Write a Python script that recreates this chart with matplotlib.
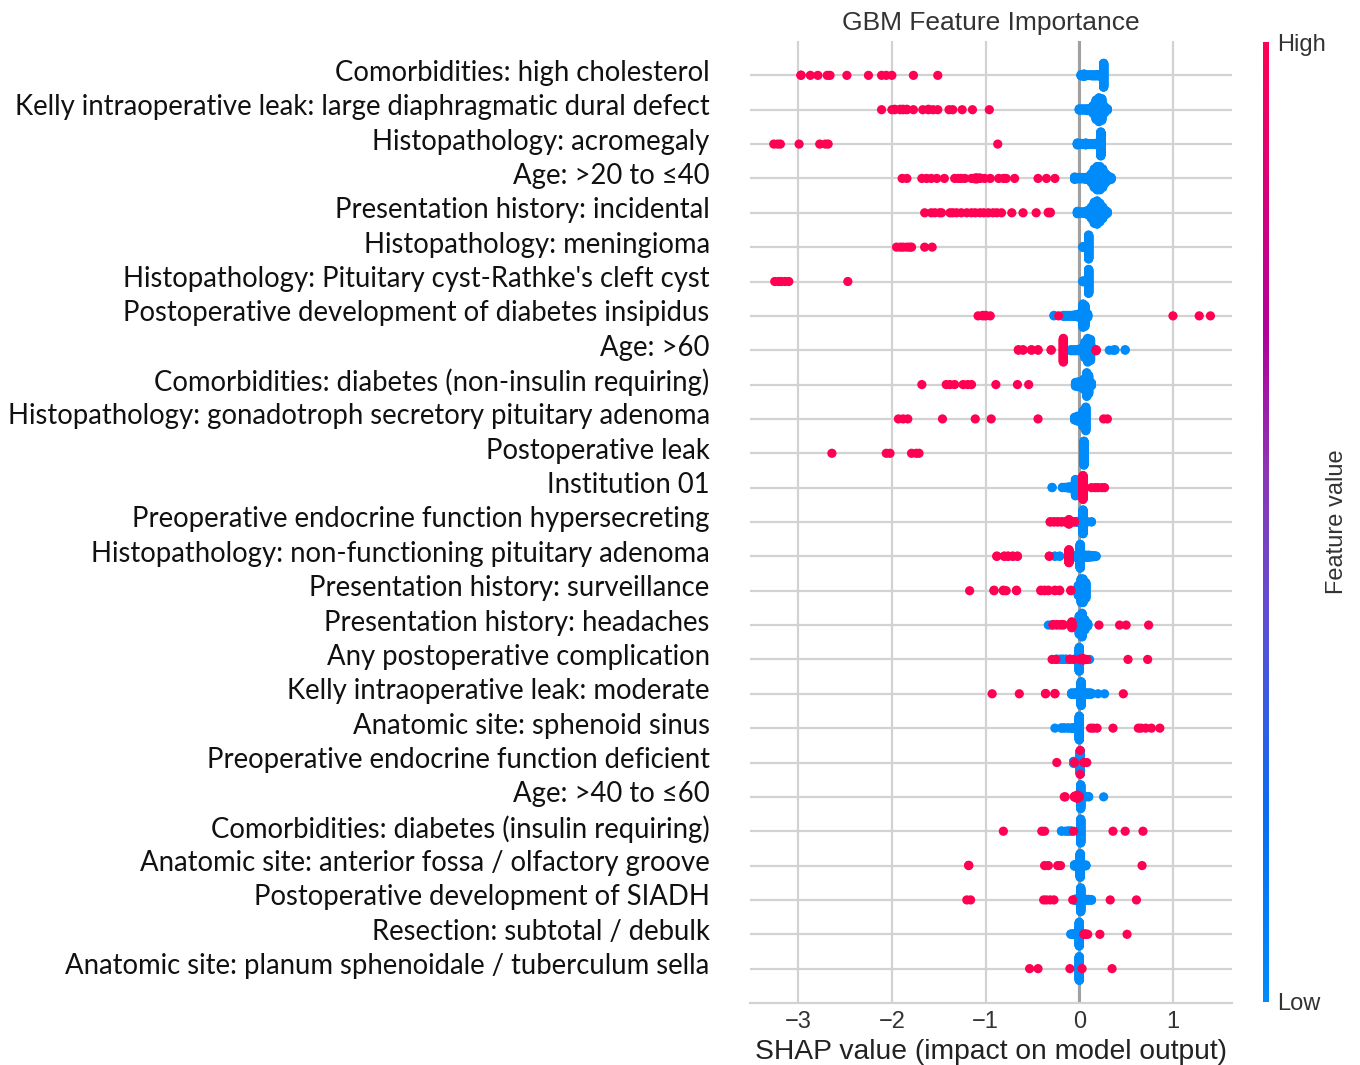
import numpy as np
import matplotlib
matplotlib.use('Agg')
from matplotlib import pyplot as plt
from matplotlib.colors import LinearSegmentedColormap
from matplotlib.cm import ScalarMappable
from matplotlib.transforms import ScaledTranslation


# features, top to bottom
FEATURES = [
    'Comorbidities: high cholesterol',
    'Kelly intraoperative leak: large diaphragmatic dural defect',
    'Histopathology: acromegaly',
    'Age: >20 to \u226440',
    'Presentation history: incidental',
    'Histopathology: meningioma',
    "Histopathology: Pituitary cyst-Rathke's cleft cyst",
    'Postoperative development of diabetes insipidus',
    'Age: >60',
    'Comorbidities: diabetes (non-insulin requiring)',
    'Histopathology: gonadotroph secretory pituitary adenoma',
    'Postoperative leak',
    'Institution 01',
    'Preoperative endocrine function hypersecreting',
    'Histopathology: non-functioning pituitary adenoma',
    'Presentation history: surveillance',
    'Presentation history: headaches',
    'Any postoperative complication',
    'Kelly intraoperative leak: moderate',
    'Anatomic site: sphenoid sinus',
    'Preoperative endocrine function deficient',
    'Age: >40 to \u226460',
    'Comorbidities: diabetes (insulin requiring)',
    'Anatomic site: anterior fossa / olfactory groove',
    'Postoperative development of SIADH',
    'Resection: subtotal / debulk',
    'Anatomic site: planum sphenoidale / tuberculum sella',
]

# SHAP values of the high feature value group (red) and their counts
HIGH_VALS = [
    [-2.97, -2.87, -2.79, -2.69, -2.66, -2.48, -2.25, -2.11, -2.06, -2.00, -1.77, -1.51],
    [-2.11, -2.00, -1.97, -1.91, -1.88, -1.84, -1.77, -1.67, -1.61, -1.56, -1.51, -1.39, -1.35, -1.25, -1.14, -0.96],
    [-3.26, -3.22, -3.19, -2.99, -2.77, -2.71, -2.68, -0.87],
    [-1.89, -1.84, -1.68, -1.63, -1.58, -1.52, -1.44, -1.33, -1.29, -1.26, -1.22, -1.15, -1.11, -1.09,
     -1.06, -1.01, -0.95, -0.86, -0.81, -0.78, -0.69, -0.44, -0.35, -0.26],
    [-1.65, -1.58, -1.54, -1.49, -1.47, -1.38, -1.35, -1.31, -1.26, -1.20, -1.15, -1.11, -1.06, -1.02,
     -0.97, -0.92, -0.88, -0.83, -0.72, -0.60, -0.46, -0.33, -0.31],
    [-1.95, -1.91, -1.88, -1.84, -1.81, -1.79, -1.65, -1.57],
    [-3.25, -3.21, -3.18, -3.14, -3.10, -2.47],
    [-1.08, -1.03, -1.00, -0.95, -0.22, 1.00, 1.28, 1.40],
    [-0.65, -0.60, -0.51, -0.44, -0.30, -0.17, 0.18],
    [-1.68, -1.42, -1.38, -1.33, -1.24, -1.19, -1.15, -0.89, -0.66, -0.54],
    [-1.93, -1.88, -1.83, -1.46, -1.11, -0.94, -0.44, 0.26, 0.30],
    [-2.64, -2.06, -2.02, -1.79, -1.74, -1.71],
    [0.04, 0.13, 0.17, 0.20, 0.24, 0.27],
    [-0.31, -0.27, -0.23, -0.19, -0.15, -0.11, -0.08, -0.05],
    [-0.88, -0.80, -0.76, -0.71, -0.66, -0.32, -0.11],
    [-1.17, -0.91, -0.81, -0.78, -0.67, -0.41, -0.37, -0.33, -0.26, -0.21, -0.09],
    [-0.28, -0.24, -0.20, -0.17, -0.08, 0.21, 0.43, 0.50, 0.74],
    [-0.29, -0.25, -0.10, -0.06, 0.01, 0.04, 0.08, 0.52, 0.73],
    [-0.93, -0.64, -0.36, -0.26, 0.47],
    [0.12, 0.15, 0.19, 0.36, 0.63, 0.66, 0.71, 0.77, 0.86],
    [-0.24, -0.05, 0.01, 0.05, 0.08],
    [-0.16, -0.15, -0.05, -0.02, 0.00],
    [-0.81, -0.40, -0.37, -0.06, 0.36, 0.49, 0.68],
    [-1.18, -0.37, -0.33, -0.23, -0.20, 0.67],
    [-1.20, -1.16, -0.38, -0.35, -0.31, -0.27, -0.07, 0.33, 0.61],
    [0.05, 0.07, 0.09, 0.22, 0.51],
    [-0.53, -0.44, -0.10, 0.03, 0.35],
]
HIGH_CNTS = [
    [2, 1, 1, 1, 1, 1, 1, 1, 1, 1, 1, 1],
    [1, 1, 2, 2, 2, 2, 1, 1, 2, 1, 1, 1, 1, 1, 1, 1],
    [1, 1, 1, 1, 1, 1, 1, 1],
    [1, 1, 1, 1, 1, 1, 1, 1, 1, 1, 1, 1, 3, 3, 2, 1, 1, 1, 1, 1, 1, 1, 1, 1],
    [1, 1, 1, 1, 1, 1, 1, 1, 1, 1, 1, 1, 1, 1, 1, 1, 1, 1, 1, 1, 1, 2, 2],
    [1, 1, 1, 1, 1, 1, 1, 1],
    [1, 1, 1, 1, 1, 1],
    [1, 2, 2, 1, 1, 1, 1, 1],
    [2, 2, 2, 2, 2, 45, 3],
    [1, 1, 1, 1, 1, 1, 1, 1, 1, 1],
    [1, 1, 1, 1, 1, 1, 1, 1, 1],
    [1, 1, 1, 1, 1, 1],
    [80, 1, 1, 1, 1, 1],
    [2, 2, 2, 2, 2, 16, 2, 2],
    [2, 2, 2, 2, 2, 2, 44],
    [1, 2, 2, 1, 2, 2, 2, 2, 2, 2, 2],
    [2, 2, 2, 2, 12, 1, 1, 1, 1],
    [1, 1, 2, 1, 3, 2, 1, 1, 1],
    [1, 1, 2, 2, 1],
    [1, 1, 1, 1, 1, 1, 1, 1, 1],
    [1, 1, 2, 1, 1],
    [1, 1, 4, 6, 4],
    [1, 1, 1, 1, 1, 1, 1],
    [2, 1, 1, 1, 1, 1],
    [1, 1, 1, 1, 1, 1, 1, 1, 1],
    [2, 2, 1, 1, 1],
    [1, 1, 1, 1, 1],
]

# SHAP values of the low feature value group (blue) and their counts
LOW_VALS = [
    [0.02, 0.05, 0.08, 0.11, 0.14, 0.17, 0.20, 0.23, 0.26],
    [0.00, 0.03, 0.06, 0.09, 0.12, 0.15, 0.18, 0.21, 0.24, 0.27, 0.30],
    [-0.02, 0.01, 0.04, 0.07, 0.10, 0.13, 0.16, 0.19, 0.23],
    [-0.05, -0.02, 0.01, 0.04, 0.07, 0.10, 0.13, 0.16, 0.19, 0.22, 0.25, 0.28, 0.31, 0.34],
    [-0.02, 0.01, 0.04, 0.07, 0.10, 0.13, 0.16, 0.19, 0.22, 0.25, 0.28, 0.30],
    [0.04, 0.07, 0.10],
    [0.04, 0.07, 0.10],
    [-0.27, -0.17, -0.14, -0.11, -0.08, -0.05, -0.02, 0.01, 0.04, 0.06, 0.09],
    [-0.09, -0.06, -0.03, 0.00, 0.03, 0.06, 0.09, 0.12, 0.15, 0.32, 0.36, 0.38, 0.49],
    [-0.04, -0.01, 0.02, 0.05, 0.08, 0.10, 0.13],
    [-0.05, -0.02, 0.01, 0.04, 0.07],
    [0.05],
    [-0.29, -0.18, -0.15, -0.12, -0.09, -0.04],
    [-0.02, 0.01, 0.04, 0.07, 0.13],
    [-0.26, -0.21, -0.05, -0.02, 0.01, 0.04, 0.07, 0.10, 0.13, 0.16, 0.18],
    [-0.01, 0.02, 0.04, 0.07],
    [-0.33, -0.30, 0.00, 0.03, 0.06, 0.09],
    [-0.24, -0.20, -0.17, -0.14, -0.04, 0.00, 0.04, 0.11],
    [-0.08, -0.05, -0.02, 0.02, 0.05, 0.08, 0.11, 0.13, 0.20, 0.27],
    [-0.26, -0.19, -0.16, -0.12, -0.08, -0.04, 0.00],
    [-0.06, 0.01],
    [-0.02, 0.015, 0.06, 0.10, 0.26],
    [-0.19, -0.15, -0.12, -0.09, 0.015],
    [-0.05, 0.01, 0.07],
    [-0.04, 0.015, 0.06, 0.10, 0.13],
    [-0.09, -0.06, 0.00],
    [0.00],
]
LOW_CNTS = [
    [6, 4, 4, 4, 5, 5, 6, 10, 90],
    [4, 4, 4, 5, 8, 20, 45, 55, 50, 15, 4],
    [8, 6, 4, 4, 4, 4, 5, 8, 90],
    [6, 4, 4, 4, 5, 8, 20, 40, 50, 50, 40, 20, 10, 5],
    [6, 4, 4, 6, 12, 25, 45, 50, 40, 25, 10, 4],
    [4, 6, 90],
    [4, 6, 90],
    [2, 3, 3, 3, 3, 4, 6, 10, 50, 45, 8],
    [3, 3, 3, 4, 8, 30, 45, 40, 6, 1, 1, 2, 2],
    [8, 10, 12, 20, 45, 35, 6],
    [6, 10, 12, 30, 45],
    [90],
    [2, 2, 2, 4, 6, 55],
    [4, 6, 80, 6, 2],
    [2, 2, 6, 8, 80, 10, 8, 8, 6, 4, 2],
    [20, 45, 45, 30],
    [1, 1, 35, 45, 20, 6],
    [2, 2, 2, 2, 4, 80, 4, 1],
    [6, 6, 8, 80, 8, 6, 6, 4, 1, 1],
    [1, 2, 2, 2, 3, 6, 80],
    [8, 80],
    [6, 80, 4, 2, 1],
    [2, 1, 2, 2, 80],
    [6, 80, 4],
    [6, 80, 6, 4, 3],
    [2, 4, 80],
    [80],
]

RED = '#ff0052'
BLUE = '#008bfb'
GRID = '#d2d2d2'
ROW_HEIGHT = 0.4

red_blue = LinearSegmentedColormap.from_list('red_blue', [
    (0.00, '#008bfb'), (0.20, '#0a6cf0'), (0.40, '#5e4fd4'),
    (0.55, '#8c36b8'), (0.70, '#b1009c'), (0.85, '#d9007a'), (1.00, '#ff0052')])


def beeswarm_offsets(shaps, nbins=100):
    """vertical jitter of one row, same binning idea as shap summary_plot"""
    quant = np.round(nbins * (shaps - shaps.min()) / (shaps.max() - shaps.min() + 1e-8))
    inds = np.argsort(quant, kind='stable')
    layer = 0
    last_bin = -1
    ys = np.zeros(len(shaps))
    for ind in inds:
        if quant[ind] != last_bin:
            layer = 0
        ys[ind] = np.ceil(layer / 2) * ((layer % 2) * 2 - 1)
        layer += 1
        last_bin = quant[ind]
    ys *= 0.9 * (ROW_HEIGHT / np.max(ys + 1))
    return ys


fig = plt.figure(figsize=(13.6, 10.65), dpi=100)
ax = fig.add_axes([750/1360, 62/1065, 482/1360, 962/1065])

n = len(FEATURES)
for i in range(n):
    pos = n - 1 - i
    low = np.repeat(LOW_VALS[i], LOW_CNTS[i])
    high = np.repeat(HIGH_VALS[i], HIGH_CNTS[i])
    shaps = np.concatenate([low, high])
    colors = [BLUE] * low.size + [RED] * high.size
    ys = beeswarm_offsets(shaps)
    ax.axhline(y=pos, color=GRID, lw=1.6, zorder=0)
    ax.scatter(shaps, pos + ys, c=colors, s=44, linewidths=0, zorder=3)

ax.axvline(x=0, color='#a0a0a0', lw=2.2, zorder=1)

ax.set_xlim(-3.514, 1.63)
ax.set_ylim(-1, n)
ax.set_xticks([-3, -2, -1, 0, 1])
ax.grid(axis='x', color=GRID, lw=1.6, zorder=0)
ax.set_axisbelow(True)
ax.set_yticks(range(n))
ax.set_yticklabels(FEATURES[::-1], fontfamily='Lato', fontsize=19.8, color='#111111')
ax.tick_params(axis='y', length=0, pad=29)
# labels sit a little above the row lines in the original
shift = ScaledTranslation(0, 5/100, fig.dpi_scale_trans)
for lbl in ax.get_yticklabels():
    lbl.set_transform(lbl.get_transform() + shift)
ax.tick_params(axis='x', length=0, pad=6, labelsize=17, labelcolor='#333333')
for lbl in ax.get_xticklabels():
    lbl.set_fontfamily('Liberation Sans')
for side in ['left', 'right', 'top']:
    ax.spines[side].set_visible(False)
ax.spines['bottom'].set_color(GRID)
ax.spines['bottom'].set_linewidth(1.6)
ax.set_xlabel('SHAP value (impact on model output)', fontsize=20.3,
              fontfamily='Liberation Sans', color='#222222', labelpad=4)
ax.set_title('GBM Feature Importance', fontsize=19, fontfamily='Liberation Sans',
             color='#333333', pad=8)

# colorbar
cax = fig.add_axes([1263/1360, 63/1065, 6/1360, 960/1065])
cb = fig.colorbar(ScalarMappable(cmap=red_blue), cax=cax, ticks=[0, 1])
cb.set_ticklabels(['Low', 'High'])
cb.outline.set_visible(False)
cax.tick_params(length=0, pad=6, labelsize=17, labelcolor='#333333')
for lbl in cax.get_yticklabels():
    lbl.set_fontfamily('Liberation Sans')
cb.set_label('Feature value', fontsize=17, fontfamily='Liberation Sans',
             color='#333333', labelpad=0)

fig.savefig('out.png', dpi=100)
